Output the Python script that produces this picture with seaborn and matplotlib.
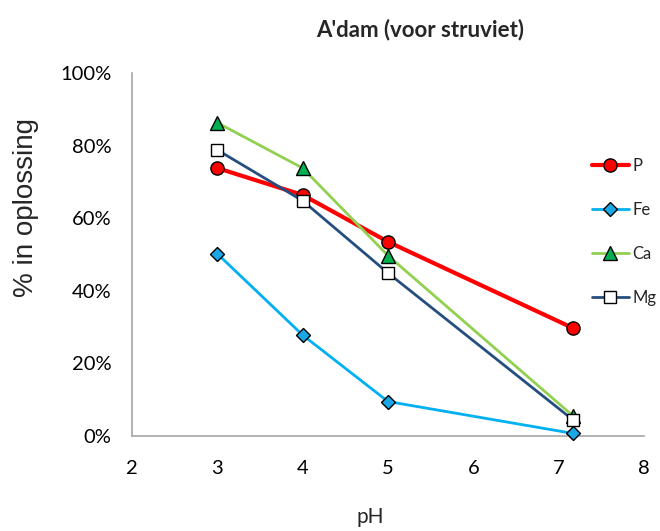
import matplotlib
matplotlib.use("Agg")
import matplotlib.pyplot as plt
import seaborn as sns
import pandas as pd
from matplotlib.ticker import FuncFormatter
from matplotlib.lines import Line2D

ph = [3, 4, 5, 7.17]
p_vals = [73.8, 66.4, 53.5, 29.7]
fe_vals = [50.2, 27.8, 9.5, 0.7]
ca_vals = [86.3, 73.8, 49.7, 5.5]
mg_vals = [78.8, 64.8, 44.9, 4.4]
series_names = ["P", "Fe", "Ca", "Mg"]
x_ticks = [2, 3, 4, 5, 6, 7, 8]
y_ticks = [0, 20, 40, 60, 80, 100]

sns.set_theme(style="white")
plt.rcParams['font.family'] = ['Lato', 'DejaVu Sans']

fig = plt.figure(figsize=(6.6, 5.31), dpi=100)
ax = fig.add_axes([132/660, 1-436/531, (644-132)/660, (436-73)/531])

styles = {
    "P":  dict(color="#FF0000", lw=3.0, marker="o", mfc="#FF0000", ms=9.5),
    "Fe": dict(color="#00B0F0", lw=2.0, marker="D", mfc="#1AA7E6", ms=7.5),
    "Ca": dict(color="#92D050", lw=2.0, marker="^", mfc="#00B050", ms=9.5),
    "Mg": dict(color="#254E80", lw=2.0, marker="s", mfc="#FFFFFF", ms=8.5),
}
data = {"P": p_vals, "Fe": fe_vals, "Ca": ca_vals, "Mg": mg_vals}

handles = []
for name in series_names:
    st = styles[name]
    df = pd.DataFrame({"pH": ph, "val": data[name]})
    sns.lineplot(data=df, x="pH", y="val", ax=ax, color=st["color"], lw=st["lw"],
                 marker=st["marker"], markerfacecolor=st["mfc"], markeredgecolor="black",
                 markeredgewidth=1.0, markersize=st["ms"], zorder=3, clip_on=False)
    handles.append(Line2D([], [], color=st["color"], lw=st["lw"], marker=st["marker"],
                          markerfacecolor=st["mfc"], markeredgecolor="black",
                          markeredgewidth=1.0, markersize=st["ms"], label=name))

ax.set_xlim(2, 8)
ax.set_ylim(0, 100)
ax.set_xticks(x_ticks)
ax.set_yticks(y_ticks)
ax.yaxis.set_major_formatter(FuncFormatter(lambda v, _: f"{int(v)}%"))
ax.set_xlabel("")
ax.set_ylabel("")
for s in ["top", "right"]:
    ax.spines[s].set_visible(False)
for s in ["left", "bottom"]:
    ax.spines[s].set_color("#A6A6A6")
    ax.spines[s].set_linewidth(1.2)
ax.tick_params(axis="both", which="major", direction="out", length=7, width=1.2,
               color="#A6A6A6", labelsize=14.5, labelcolor="black", pad=8)
ax.tick_params(axis="x", pad=10)
ax.grid(False)

fig.text(420/660, 1-30/531, "A'dam (voor struviet)", ha="center", va="center",
         fontsize=16, fontweight="bold")
fig.text(26/660, 1-207/531, "% in oplossing", ha="center", va="center", rotation=90,
         fontsize=20, family=["Liberation Sans", "DejaVu Sans"])
fig.text(370/660, 1-517/531, "pH", ha="center", va="center", fontsize=15)

fig.legend(handles=handles, loc="center left", bbox_to_anchor=(592/660, 1-232/531),
           frameon=False, fontsize=12, handlelength=2.2, handletextpad=0.2,
           labelspacing=1.68, borderpad=0, borderaxespad=0)

fig.savefig("out.png", dpi=100)
